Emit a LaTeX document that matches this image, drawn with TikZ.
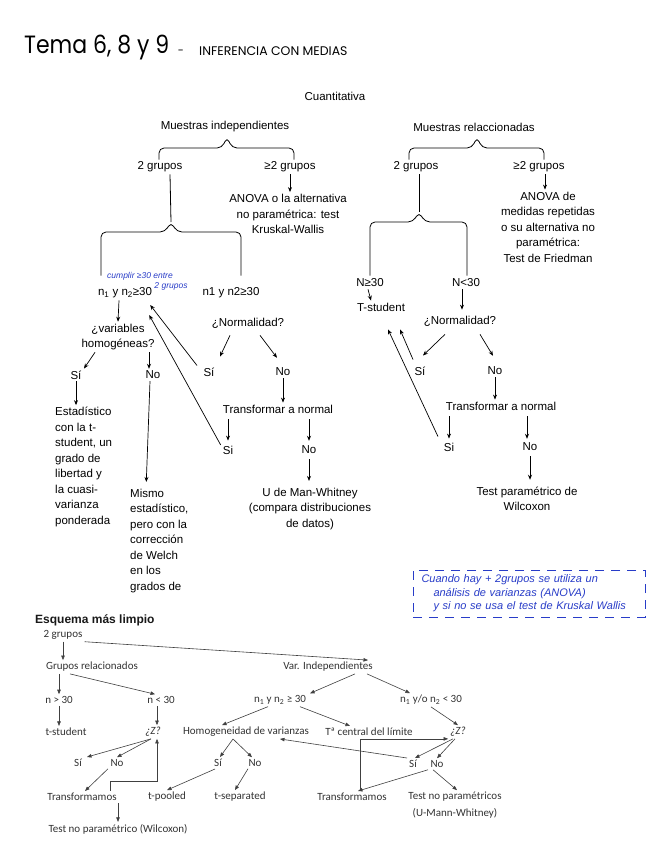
\documentclass[tikz,border=0pt]{standalone}
\usepackage{fontspec}
\setmainfont{Liberation Sans}
\newfontfamily\limpiofont{Carlito}
\newfontfamily\manofont{Poppins}
\usetikzlibrary{arrows.meta}
\definecolor{azulMano}{RGB}{40,60,200}

\begin{document}
\begin{tikzpicture}[x=1pt,y=-1pt,
  texto/.style={font=\fontsize{11.5}{15.5}\selectfont,text=black,inner sep=2pt,align=center},
  flecha/.style={-{Stealth[length=5pt,width=4pt]},line width=0.7pt},
  llave/.style={line width=0.8pt,rounded corners=5pt},
  limpio/.style={font=\limpiofont\fontsize{11}{17}\selectfont,text=black!80,inner sep=2pt,align=center},
  flechaLimpia/.style={-{Triangle[length=4.5pt,width=3.5pt]},line width=0.6pt,color=black!75},
  mano/.style={font=\manofont,text=black,inner sep=0pt},
  azul/.style={text=azulMano,inner sep=0pt,font=\itshape\fontsize{8.5}{9}\selectfont},
  nota/.style={draw=azulMano,dash pattern=on 9pt off 7pt,line width=0.8pt,text=azulMano,align=left,
    font=\itshape\fontsize{11}{13.5}\selectfont,text width=215pt,inner xsep=8.5pt}]
  \useasboundingbox[fill=white] (0,0) rectangle (655,848);

  % titulo a mano
  \node[mano,anchor=west,font=\manofont\fontsize{25}{25}\selectfont,xscale=0.88,transform shape] (tema) at (24,48) {Tema 6, 8 y 9};
  \node[mano,font=\manofont\fontsize{11}{11}\selectfont] (guion) at (181,52) {-};
  \node[mano,anchor=west,font=\manofont\fontsize{12.5}{12.5}\selectfont] (inferencia) at (199,51) {INFERENCIA CON MEDIAS};

  % esquema de arriba
  \node[texto] (cuantitativa) at (335,96) {Cuantitativa};
  \node[texto] (muestrasInd) at (225,127) {Muestras independientes};
  \node[texto] (muestrasRel) at (474,127) {Muestras relaccionadas};
  \node[texto] (dosGruposInd) at (160,167) {2 grupos};
  \node[texto] (masGruposInd) at (290,167) {≥2 grupos};
  \node[texto] (dosGruposRel) at (416,167) {2 grupos};
  \node[texto] (masGruposRel) at (539,167) {≥2 grupos};
  \node[texto] (anovaInd) at (288,214) {ANOVA o la alternativa\\no paramétrica: test\\Kruskal-Wallis};
  \node[texto] (anovaRel) at (548,227) {ANOVA de\\medidas repetidas\\o su alternativa no\\paramétrica:\\Test de Friedman};

  \coordinate (llaveInd) at (227,137);
  \coordinate (llaveRel) at (477,137);
  \coordinate (horquillaInd) at (171,222);
  \coordinate (horquillaRel) at (419,212);

  \draw[llave] ([xshift=-1pt]dosGruposInd.north) |- ([shift={(-5pt,-11pt)}]llaveInd) -- (llaveInd) -- ([shift={(5pt,-11pt)}]llaveInd) -| ([xshift=4pt]masGruposInd.north);
  \draw[llave] ([xshift=-7pt]dosGruposRel.north) |- ([shift={(-5pt,-11pt)}]llaveRel) -- (llaveRel) -- ([shift={(5pt,-11pt)}]llaveRel) -| ([xshift=5pt]masGruposRel.north);
  \path[flecha] (masGruposInd) edge (masGruposInd |- anovaInd.north);
  \path[flecha] ([xshift=6pt]masGruposRel.south) edge ([xshift=-3pt]anovaRel.north);

  % muestras independientes, 2 grupos
  \node[texto] (nUnoInd) at (125,293) {n\textsubscript{1} y n\textsubscript{2}≥30};
  \node[texto] (nDosInd) at (231,293) {n1 y n2≥30};
  \node[azul] (cumplir) at (140,276) {cumplir ≥30 entre};
  \node[azul] (cumplirGrupos) at (171,286) {2 grupos};
  \draw[llave] ([xshift=10pt]dosGruposInd.south) -- (horquillaInd);
  \draw[llave] ([shift={(-24pt,10pt)}]nUnoInd.north) |- ([shift={(-6pt,-10pt)}]horquillaInd) -- (horquillaInd) -- ([shift={(6pt,-10pt)}]horquillaInd) -| ([shift={(10pt,10pt)}]nDosInd.north);

  \node[texto] (homogeneas) at (118,337) {¿variables\\homogéneas?};
  \node[texto] (siHomo) at (76,375) {Sí};
  \node[texto] (noHomo) at (153,375) {No};
  \node[texto,align=left,anchor=west] (estadistico) at (53,467) {Estadístico\\con la t-\\student, un\\grado de\\libertad y\\la cuasi-\\varianza\\ponderada};
  \node[texto,align=left,anchor=west] (mismo) at (128,541) {Mismo\\estadístico,\\pero con la\\corrección\\de Welch\\en los\\grados de};

  \node[texto] (normalidadInd) at (248,323) {¿Normalidad?};
  \node[texto] (siNormInd) at (209,372) {Sí};
  \node[texto] (noNormInd) at (283,372) {No};
  \node[texto] (transfInd) at (278,409) {Transformar a normal};
  \node[texto] (siTransfInd) at (228,450) {Si};
  \node[texto] (noTransfInd) at (309,450) {No};
  \node[texto] (mannWhitney) at (310,509) {U de Man-Whitney\\(compara distribuciones\\de datos)};

  \path[flecha] ([xshift=-6pt]nUnoInd.south) edge (homogeneas.north);
  \path[flecha] ([xshift=-23pt]homogeneas.south) edge ([xshift=8pt]siHomo.north);
  \path[flecha] ([xshift=31pt]homogeneas.south) edge ([xshift=-4pt]noHomo.north);
  \path[flecha] (siHomo.south) edge (siHomo.south |- estadistico.north);
  \path[flecha] ([xshift=-3pt]noHomo.south) edge ([xshift=-13pt,yshift=5pt]mismo.north);
  \path[flecha] ([shift={(-18pt,-5pt)}]normalidadInd.south) edge ([shift={(11pt,9pt)}]siNormInd.north);
  \path[flecha] ([shift={(12pt,-5pt)}]normalidadInd.south) edge ([shift={(-6pt,8pt)}]noNormInd.north);
  \path[flecha] ([xshift=-12pt]siNormInd.north) edge ([shift={(-4pt,-12pt)}]nUnoInd.east);
  \path[flecha] ([yshift=5pt]siTransfInd.west) edge ([shift={(-5pt,-22pt)}]nUnoInd.east);
  \path[flecha] (noNormInd.south) edge (noNormInd.south |- transfInd.north);
  \path[flecha,shorten <=4pt,shorten >=3pt] (siTransfInd.north |- transfInd.south) edge (siTransfInd.north);
  \path[flecha,shorten <=4pt,shorten >=3pt] (noTransfInd.north |- transfInd.south) edge (noTransfInd.north);
  \path[flecha,shorten <=3pt,shorten >=5pt] (noTransfInd.south) edge (noTransfInd.south |- mannWhitney.north);

  % muestras relaccionadas, 2 grupos
  \node[texto] (nMayorRel) at (370,283) {N≥30};
  \node[texto] (nMenorRel) at (466,283) {N<30};
  \draw[llave] ([xshift=3pt]dosGruposRel.south) -- (horquillaRel);
  \draw[llave] ([yshift=1pt]nMayorRel.north) |- ([shift={(-6pt,-10pt)}]horquillaRel) -- (horquillaRel) -- ([shift={(6pt,-10pt)}]horquillaRel) -| ([shift={(1pt,1pt)}]nMenorRel.north);

  \node[texto] (tStudentRel) at (381,307) {T-student};
  \node[texto] (normalidadRel) at (460,321) {¿Normalidad?};
  \node[texto] (siNormRel) at (420,371) {Sí};
  \node[texto] (noNormRel) at (495,371) {No};
  \node[texto] (transfRel) at (501,406) {Transformar a normal};
  \node[texto] (siTransfRel) at (449,447) {Si};
  \node[texto] (noTransfRel) at (530,447) {No};
  \node[texto] (wilcoxonRel) at (527,499) {Test paramétrico de\\Wilcoxon};

  \path[flecha] ([xshift=-2pt]nMayorRel.south) edge ([xshift=-10pt]tStudentRel.north);
  \path[flecha,shorten >=4pt] ([xshift=-4pt]nMenorRel.south) edge ([xshift=2pt]normalidadRel.north);
  \path[flecha] ([shift={(-15pt,-6pt)}]normalidadRel.south) edge ([shift={(3pt,9pt)}]siNormRel.north);
  \path[flecha] ([shift={(20pt,-6pt)}]normalidadRel.south) edge ([shift={(-2pt,9pt)}]noNormRel.north);
  \path[flecha] ([shift={(-7pt,5pt)}]siNormRel.north) edge ([shift={(19pt,-16pt)}]tStudentRel.south);
  \path[flecha] ([shift={(-11pt,4pt)}]siTransfRel.north) edge ([shift={(7pt,-16pt)}]tStudentRel.south);
  \path[flecha] (noNormRel.south) edge (noNormRel.south |- transfRel.north);
  \path[flecha,shorten <=4pt,shorten >=2pt] (siTransfRel.north |- transfRel.south) edge (siTransfRel.north);
  \path[flecha,shorten <=4pt,shorten >=2pt] ([xshift=-3pt]noTransfRel.north |- transfRel.south) edge ([xshift=-3pt]noTransfRel.north);
  \path[flecha,shorten <=3pt,shorten >=5pt] (noTransfRel.south) edge (noTransfRel.south |- wilcoxonRel.north);

  % nota a mano
  \node[nota,minimum height=47pt] (notaAnova) at (529,593.5) {Cuando hay + 2grupos se utiliza un\\\hspace*{12pt}análisis de varianzas (ANOVA)\\\hspace*{12pt}y si no se usa el test de Kruskal Wallis};

  % esquema limpio
  \node[anchor=west,font=\bfseries\fontsize{12}{12}\selectfont,text=black!90,inner sep=0pt] (esquema) at (35,620) {Esquema más limpio};
  \node[limpio] (dosGruposB) at (63,635) {2 grupos};
  \node[limpio] (relacionadosB) at (92,667) {Grupos relacionados};
  \node[limpio] (independientesB) at (328,667) {Var. Independientes};
  \node[limpio] (mayorTreintaB) at (59,700) {n > 30};
  \node[limpio] (menorTreintaB) at (161,700) {n < 30};
  \node[limpio] (nAmbosB) at (280,700) {n\textsubscript{1} y n\textsubscript{2} ≥ 30};
  \node[limpio] (nAlgunoB) at (431,700) {n\textsubscript{1} y/o n\textsubscript{2} < 30};
  \node[limpio] (tStudentB) at (66,732) {t-student};
  \node[limpio] (zRelB) at (153,732) {\itshape ¿Z?};
  \node[limpio] (homogeneidadB) at (246,732) {Homogeneidad de varianzas};
  \node[limpio] (centralB) at (369,732) {Tª central del límite};
  \node[limpio] (zIndB) at (458,732) {\itshape ¿Z?};
  \node[limpio] (siRelB) at (78,763) {Sí};
  \node[limpio] (noRelB) at (117,763) {No};
  \node[limpio] (siHomB) at (218,763) {Sí};
  \node[limpio] (noHomB) at (255,763) {No};
  \node[limpio] (siIndB) at (413,764) {Sí};
  \node[limpio] (noIndB) at (437,764) {No};
  \node[limpio] (transfRelB) at (82,797) {Transformamos};
  \node[limpio] (pooledB) at (167,797) {t-pooled};
  \node[limpio] (separatedB) at (240,797) {t-separated};
  \node[limpio] (transfIndB) at (352,797) {Transformamos};
  \node[limpio] (noParamIndB) at (455,805.5) {Test no paramétricos\\(U-Mann-Whitney)};
  \node[limpio] (wilcoxonB) at (118,829) {Test no paramétrico (Wilcoxon)};

  \path[flechaLimpia] (dosGruposB.south) edge (dosGruposB.south |- relacionadosB.north);
  \path[flechaLimpia] (dosGruposB.south east) edge ([xshift=40pt]independientesB.north);
  \path[flechaLimpia] (mayorTreintaB.north |- relacionadosB.south) edge (mayorTreintaB.north);
  \path[flechaLimpia] ([xshift=-22pt]relacionadosB.south) edge ([xshift=-6pt]menorTreintaB.north);
  \path[flechaLimpia] (mayorTreintaB.south) edge (mayorTreintaB.south |- tStudentB.north);
  \path[flechaLimpia] ([xshift=-4pt]menorTreintaB.south) edge ([xshift=4pt]zRelB.north);
  \path[flechaLimpia] ([xshift=27pt]independientesB.south) edge ([xshift=30pt]nAmbosB.north);
  \path[flechaLimpia] ([xshift=39pt]independientesB.south) edge ([xshift=-21pt]nAlgunoB.north);
  \path[flechaLimpia] ([xshift=-12pt]nAmbosB.south) edge ([xshift=-24pt]homogeneidadB.north);
  \path[flechaLimpia] ([xshift=20pt]nAmbosB.south) edge ([xshift=-19pt]centralB.north);
  \path[flechaLimpia] (nAlgunoB.south) edge (zIndB.north);
  \path[flechaLimpia] ([xshift=-2pt]zRelB.south) edge ([xshift=9pt]siRelB.north);
  \path[flechaLimpia] ([xshift=-2pt]zRelB.south) edge (noRelB.north);
  \path[flechaLimpia] ([xshift=-9pt]noRelB.south) edge ([xshift=3pt]transfRelB.north);
  \draw[flechaLimpia] ([xshift=28pt]transfRelB.north) -- ++(0,-10) -| ([xshift=4pt]zRelB.south);
  \path[flechaLimpia] (transfRelB.south -| wilcoxonB.north) edge (wilcoxonB.north);
  \path[flechaLimpia] ([xshift=-13pt]homogeneidadB.south) edge ([xshift=2pt]siHomB.north);
  \path[flechaLimpia] ([xshift=-13pt]homogeneidadB.south) edge ([xshift=-3pt]noHomB.north);
  \path[flechaLimpia] ([xshift=-3pt]siHomB.south) edge (pooledB.north);
  \path[flechaLimpia] ([xshift=-7pt]noHomB.south) edge ([xshift=-5pt]separatedB.north);
  \path[flechaLimpia] ([xshift=-5pt]zIndB.south) edge ([xshift=2pt]siIndB.north);
  \path[flechaLimpia] ([xshift=-3pt]zIndB.south) edge (noIndB.north);
  \path[flechaLimpia] (siIndB.north west) edge ([xshift=34pt]homogeneidadB.south);
  \path[flechaLimpia] ([xshift=-9pt]noIndB.south) edge ([xshift=6pt]transfIndB.north);
  \path[flechaLimpia] ([xshift=-4pt]noIndB.south) edge ([xshift=2pt]noParamIndB.north);
  \draw[flechaLimpia] ([xshift=8pt]transfIndB.north) |- (zIndB.south west);
\end{tikzpicture}
\end{document}
